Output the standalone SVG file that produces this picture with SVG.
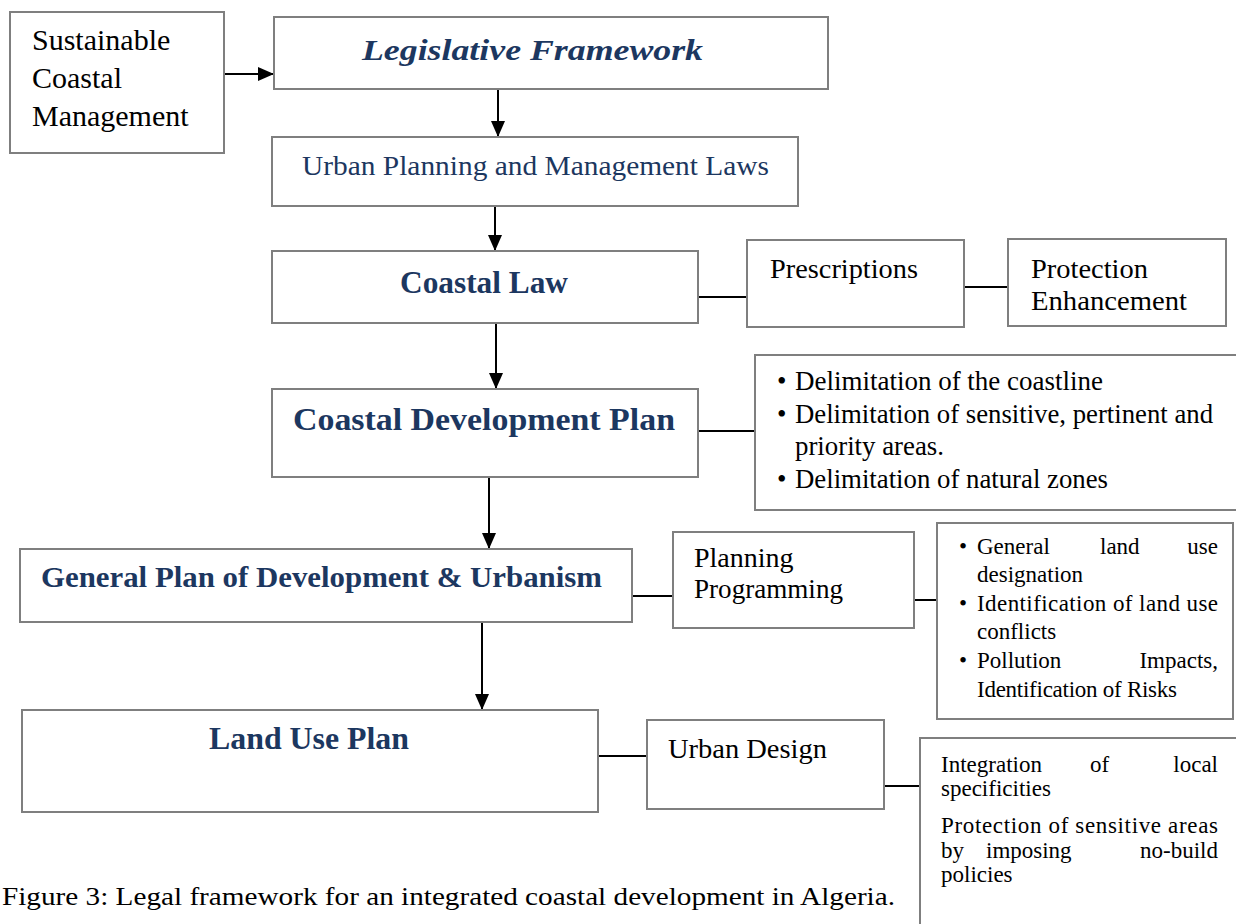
<svg xmlns="http://www.w3.org/2000/svg" width="1236" height="924" viewBox="0 0 1236 924">
  <style>
    .box { fill: #ffffff; stroke: #7f7f7f; stroke-width: 2; }
    .link { stroke: #000000; stroke-width: 2; fill: none; }
    .arrow { stroke: #000000; stroke-width: 2; fill: none; marker-end: url(#head); }
    .txt { font-family: "Liberation Serif", "Times New Roman", serif; fill: #000000; }
    .title { font-family: "Liberation Serif", "Times New Roman", serif; font-weight: bold; fill: #1c3760; }
    .blue { font-family: "Liberation Serif", "Times New Roman", serif; fill: #1c3760; }
    .s28 { font-size: 28px; }
    .s27 { font-size: 27px; }
    .s23 { font-size: 23px; }
  </style>
  <defs>
    <marker id="head" viewBox="0 0 16 14" refX="16" refY="7" markerWidth="16" markerHeight="14" markerUnits="userSpaceOnUse" orient="auto">
      <path d="M0,0 L16,7 L0,14 z" fill="#000000"/>
    </marker>
  </defs>
  <rect width="1236" height="924" fill="#ffffff"/>

  <!-- connectors -->
  <g id="connectors">
    <line class="arrow" x1="224" y1="74" x2="274" y2="74"/>
    <line class="arrow" x1="498" y1="89" x2="498" y2="137"/>
    <line class="arrow" x1="495" y1="206" x2="495" y2="251"/>
    <line class="arrow" x1="496" y1="323" x2="496" y2="389"/>
    <line class="arrow" x1="489" y1="477" x2="489" y2="549"/>
    <line class="arrow" x1="482" y1="622" x2="482" y2="710"/>
    <line class="link" x1="698" y1="297" x2="747" y2="297"/>
    <line class="link" x1="964" y1="287" x2="1008" y2="287"/>
    <line class="link" x1="698" y1="431" x2="755" y2="431"/>
    <line class="link" x1="632" y1="596" x2="673" y2="596"/>
    <line class="link" x1="914" y1="600" x2="937" y2="600"/>
    <line class="link" x1="598" y1="756" x2="647" y2="756"/>
    <line class="link" x1="884" y1="786" x2="920" y2="786"/>
  </g>

  <g id="sustainable">
    <rect class="box" x="10" y="12" width="214" height="141"/>
    <text class="txt" font-size="30" x="32" y="50">Sustainable</text>
    <text class="txt" font-size="30" x="32" y="88">Coastal</text>
    <text class="txt" font-size="30" x="32" y="126">Management</text>
  </g>

  <g id="legislative">
    <rect class="box" x="274" y="17" width="554" height="72"/>
    <text class="title" font-style="italic" font-size="30" x="362" y="60" textLength="341" lengthAdjust="spacingAndGlyphs">Legislative Framework</text>
  </g>

  <g id="urban-laws">
    <rect class="box" x="272" y="137" width="526" height="69"/>
    <text class="blue s28" x="302" y="175" textLength="467" lengthAdjust="spacingAndGlyphs">Urban Planning  and Management  Laws</text>
  </g>

  <g id="coastal-law">
    <rect class="box" x="272" y="251" width="426" height="72"/>
    <text class="title" font-size="31" x="400" y="293" textLength="168" lengthAdjust="spacingAndGlyphs">Coastal Law</text>
  </g>

  <g id="prescriptions">
    <rect class="box" x="747" y="240" width="217" height="87"/>
    <text class="txt s28" x="770" y="278" textLength="148" lengthAdjust="spacingAndGlyphs">Prescriptions</text>
  </g>

  <g id="protection">
    <rect class="box" x="1008" y="239" width="218" height="87"/>
    <text class="txt s28" x="1031" y="278" textLength="117" lengthAdjust="spacingAndGlyphs">Protection</text>
    <text class="txt s28" x="1031" y="310" textLength="156" lengthAdjust="spacingAndGlyphs">Enhancement</text>
  </g>

  <g id="coastal-plan">
    <rect class="box" x="272" y="389" width="426" height="88"/>
    <text class="title" font-size="31" x="293" y="430" textLength="382" lengthAdjust="spacingAndGlyphs">Coastal Development Plan</text>
  </g>

  <g id="delimitation">
    <rect class="box" x="755" y="355" width="500" height="155"/>
    <text class="txt s27" x="777" y="390">•</text>
    <text class="txt s27" x="795" y="390" textLength="308" lengthAdjust="spacingAndGlyphs">Delimitation of the coastline</text>
    <text class="txt s27" x="777" y="423">•</text>
    <text class="txt s27" x="795" y="423" textLength="418" lengthAdjust="spacingAndGlyphs">Delimitation of sensitive, pertinent and</text>
    <text class="txt s27" x="795" y="455" textLength="149" lengthAdjust="spacingAndGlyphs">priority areas.</text>
    <text class="txt s27" x="777" y="488">•</text>
    <text class="txt s27" x="795" y="488" textLength="313" lengthAdjust="spacingAndGlyphs">Delimitation of natural zones</text>
  </g>

  <g id="general-plan">
    <rect class="box" x="20" y="549" width="612" height="73"/>
    <text class="title" font-size="30" x="41" y="587" textLength="561" lengthAdjust="spacingAndGlyphs">General Plan of Development &amp; Urbanism</text>
  </g>

  <g id="planning">
    <rect class="box" x="673" y="532" width="241" height="96"/>
    <text class="txt s28" x="694" y="567">Planning</text>
    <text class="txt s28" x="694" y="598" textLength="149" lengthAdjust="spacingAndGlyphs">Programming</text>
  </g>

  <g id="land-use-items">
    <rect class="box" x="937" y="523" width="296" height="196"/>
    <text class="txt s23" x="959" y="554">•</text>
    <text class="txt s23" x="977" y="554">General</text>
    <text class="txt s23" x="1100" y="554">land</text>
    <text class="txt s23" x="1218" y="554" text-anchor="end">use</text>
    <text class="txt s23" x="977" y="582">designation</text>
    <text class="txt s23" x="959" y="611">•</text>
    <text class="txt s23" x="977" y="611" textLength="241" lengthAdjust="spacing">Identification of land use</text>
    <text class="txt s23" x="977" y="639">conflicts</text>
    <text class="txt s23" x="959" y="668">•</text>
    <text class="txt s23" x="977" y="668">Pollution</text>
    <text class="txt s23" x="1218" y="668" text-anchor="end">Impacts,</text>
    <text class="txt s23" x="977" y="697" textLength="200" lengthAdjust="spacing">Identification of Risks</text>
  </g>

  <g id="land-use-plan">
    <rect class="box" x="22" y="710" width="576" height="102"/>
    <text class="title" font-size="31" x="209" y="749" textLength="200" lengthAdjust="spacingAndGlyphs">Land Use Plan</text>
  </g>

  <g id="urban-design">
    <rect class="box" x="647" y="720" width="237" height="89"/>
    <text class="txt s28" x="668" y="758" textLength="159" lengthAdjust="spacingAndGlyphs">Urban Design</text>
  </g>

  <g id="integration">
    <rect class="box" x="920" y="738" width="340" height="220"/>
    <text class="txt s23" x="941" y="772">Integration</text>
    <text class="txt s23" x="1090" y="772">of</text>
    <text class="txt s23" x="1218" y="772" text-anchor="end">local</text>
    <text class="txt s23" x="941" y="796">specificities</text>
    <text class="txt s23" x="941" y="833" textLength="277" lengthAdjust="spacing">Protection of sensitive areas</text>
    <text class="txt s23" x="941" y="858">by</text>
    <text class="txt s23" x="986" y="858">imposing</text>
    <text class="txt s23" x="1218" y="858" text-anchor="end">no-build</text>
    <text class="txt s23" x="941" y="882">policies</text>
  </g>

  <text class="txt" font-size="26" x="2" y="905" textLength="893" lengthAdjust="spacingAndGlyphs">Figure 3: Legal framework for an integrated coastal development in Algeria.</text>
</svg>
